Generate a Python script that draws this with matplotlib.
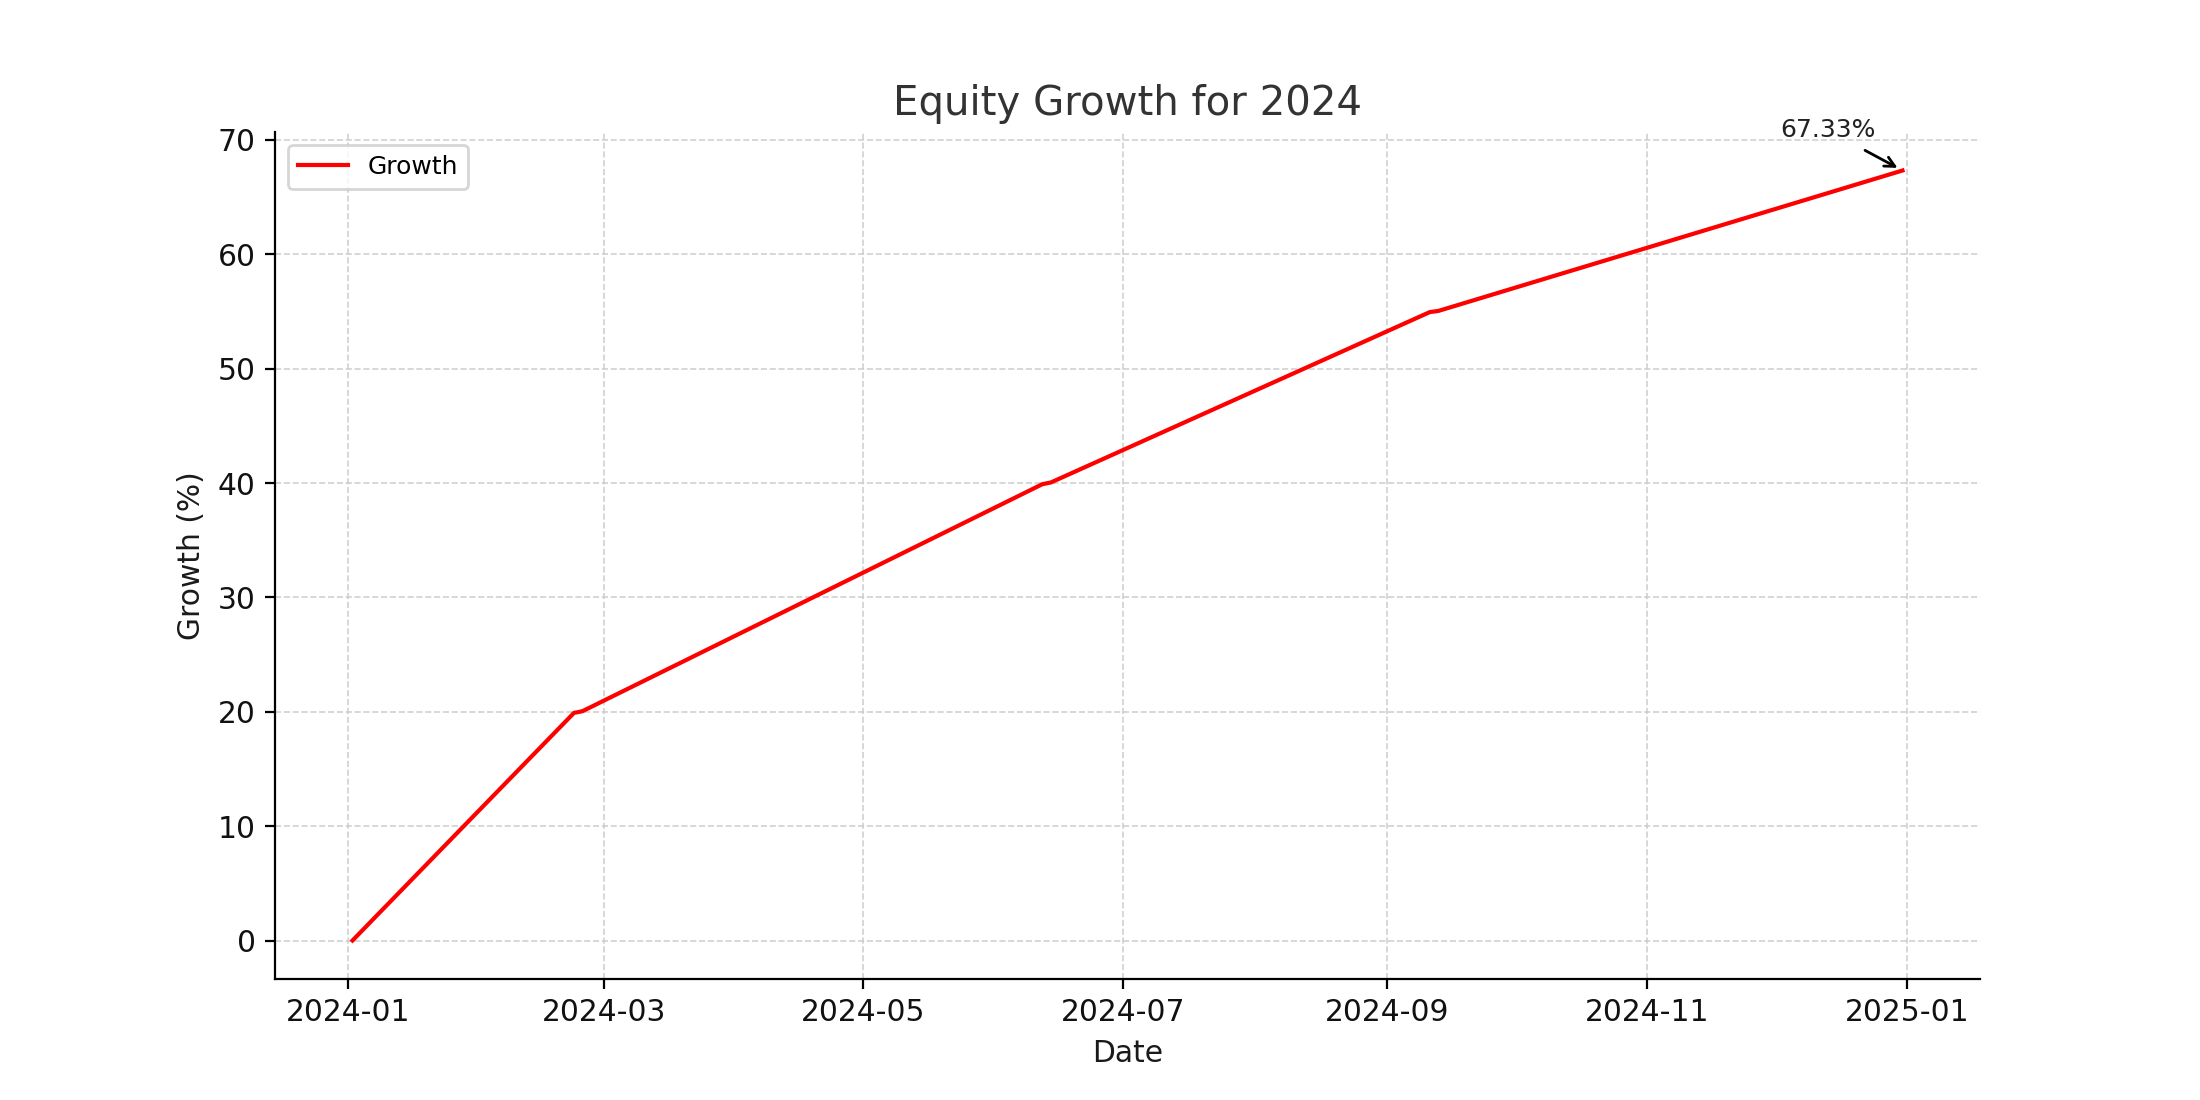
import matplotlib
matplotlib.use("Agg")
import matplotlib.pyplot as plt
import matplotlib.dates as mdates
import pandas as pd

dates = ["2024-01-02", "2024-02-23", "2024-02-25", "2024-06-12", "2024-06-14",
         "2024-09-11", "2024-09-13", "2024-12-31"]
growth = [0.0, 19.9, 20.05, 39.9, 40.05, 54.95, 55.05, 67.33]
series_label = "Growth"
title = "Equity Growth for 2024"
x_label = "Date"
y_label = "Growth (%)"
final_label = "67.33%"

x = pd.to_datetime(dates)

fig = plt.figure(figsize=(11, 5.5), dpi=200)
ax = fig.add_subplot(111)
ax.plot(x, growth, color="#ff0000", linewidth=1.5, label=series_label)

ax.set_title(title, fontsize=14.5, color="#333333")
ax.set_xlabel(x_label, fontsize=10.7, color="#1a1a1a")
ax.set_ylabel(y_label, fontsize=10.7, color="#1a1a1a")
ax.tick_params(axis="both", labelsize=10.7, colors="black", labelcolor="#111111")

ax.xaxis.set_major_locator(mdates.MonthLocator(bymonth=[1, 3, 5, 7, 9, 11]))
ax.xaxis.set_major_formatter(mdates.DateFormatter("%Y-%m"))

ax.grid(True, linestyle="--", color="#cccccc", linewidth=0.6, alpha=0.9)
ax.spines["top"].set_visible(False)
ax.spines["right"].set_visible(False)

leg = ax.legend(loc="upper left", fontsize=9)
leg.get_frame().set_edgecolor("#cccccc")

ax.annotate(final_label, xy=(x[-1], growth[-1]), xytext=(-27, 12),
            textcoords="offset points", ha="center", va="baseline",
            fontsize=9, color="#222222",
            arrowprops=dict(arrowstyle="->", color="black", lw=1.0))

fig.savefig("out.png", dpi=200)
